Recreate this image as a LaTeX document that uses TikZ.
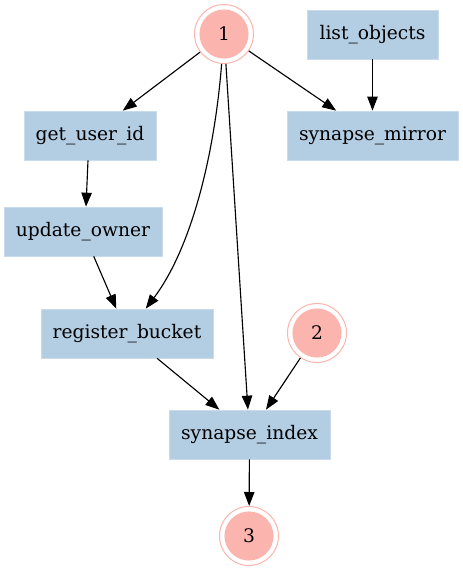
\documentclass[tikz,border=0pt]{standalone}
\usepackage{fontspec}
\setmainfont{DejaVu Serif}
\usetikzlibrary{arrows.meta}
\definecolor{boxblue}{HTML}{B3CDE3}
\definecolor{circred}{HTML}{FBB4AE}
\tikzset{
  px/.style={x=0.75pt,y=-0.75pt},
  task/.style={rectangle, fill=boxblue, draw=boxblue!70!white, line width=0.5pt, inner sep=0pt,
    minimum height=36.75pt, font=\fontsize{14pt}{16pt}\selectfont},
  dcirc/.style={circle, draw=circred, line width=0.75pt, fill=white, inner sep=0pt,
    minimum size=44.25pt, font=\fontsize{14pt}{16pt}\selectfont,
    path picture={\fill[circred] (path picture bounding box.center) circle (18.4pt);}},
  arr/.style={line width=0.85pt, -{Triangle[length=10.5pt,width=7.8pt]}}
}
\begin{document}
\begin{tikzpicture}[px]
\useasboundingbox (0,0) rectangle (463,571);
\node[dcirc] (n1) at (224,34) {1};
\node[dcirc] (n2) at (317,333) {2};
\node[dcirc] (n3) at (249,536) {3};
\node[task, minimum width=98.25pt] (lo) at (372.5,34.5) {list\_objects};
\node[task, minimum width=128.25pt] (sm) at (372.5,135.5) {synapse\_mirror};
\node[task, minimum width=99pt] (gu) at (90,135.5) {get\_user\_id};
\node[task, minimum width=118.5pt] (uo) at (83,231.5) {update\_owner};
\node[task, minimum width=129pt] (rb) at (127,333.5) {register\_bucket};
\node[task, minimum width=120.75pt] (si) at (249.5,434.5) {synapse\_index};
\draw[arr] (n1) -- (gu);
\draw[arr] (n1) -- (sm);
\draw[arr] (lo) -- (sm);
\draw[arr] (n1) .. controls (214,160) and (190,250) .. (rb);
\draw[arr] (n1) -- (si);
\draw[arr] (gu.south -| 88,0) -- (uo.north -| 86,0);
\draw[arr] (uo) -- (rb);
\draw[arr] (rb) -- (si);
\draw[arr] (n2) -- (si);
\draw[arr] (si) -- (n3);
\end{tikzpicture}
\end{document}
